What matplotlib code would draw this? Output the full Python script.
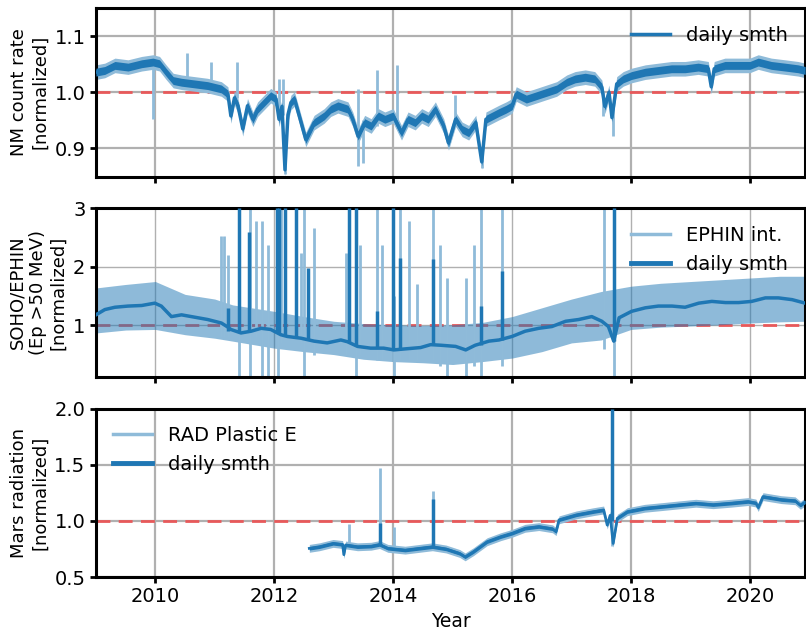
import numpy as np
import matplotlib
matplotlib.use("Agg")
import matplotlib.pyplot as plt
from matplotlib.lines import Line2D

# colours
dark = '#1f77b4'
light = '#8fbbd9'
red = '#e8595a'

# ---- NM count rate (top panel): (year, value)
nm = [(2009.0, 1.036), (2009.15, 1.039), (2009.32, 1.048), (2009.54, 1.045), (2009.77, 1.051),
      (2009.96, 1.054), (2010.07, 1.051), (2010.18, 1.036), (2010.30, 1.021), (2010.44, 1.018),
      (2010.66, 1.015), (2010.88, 1.012), (2011.11, 1.006), (2011.22, 0.997), (2011.27, 0.958),
      (2011.33, 0.990), (2011.39, 0.976), (2011.47, 0.935), (2011.55, 0.976), (2011.64, 0.952),
      (2011.72, 0.970), (2011.83, 0.982), (2011.94, 0.994), (2012.03, 0.988), (2012.08, 0.952),
      (2012.13, 0.975), (2012.18, 0.862), (2012.23, 0.960), (2012.28, 0.982), (2012.34, 0.988),
      (2012.42, 0.958), (2012.53, 0.916), (2012.67, 0.946), (2012.84, 0.958), (2012.95, 0.970),
      (2013.07, 0.976), (2013.24, 0.970), (2013.32, 0.952), (2013.41, 0.922), (2013.52, 0.946),
      (2013.63, 0.940), (2013.75, 0.958), (2013.86, 0.952), (2014.00, 0.958), (2014.14, 0.928),
      (2014.25, 0.952), (2014.37, 0.946), (2014.48, 0.958), (2014.59, 0.952), (2014.71, 0.970),
      (2014.85, 0.940), (2014.93, 0.910), (2015.05, 0.952), (2015.16, 0.934), (2015.27, 0.928),
      (2015.39, 0.946), (2015.49, 0.876), (2015.56, 0.952), (2015.67, 0.958), (2015.78, 0.964),
      (2015.90, 0.970), (2016.00, 0.976), (2016.07, 0.997), (2016.24, 0.988), (2016.41, 0.994),
      (2016.58, 1.000), (2016.75, 1.006), (2016.92, 1.018), (2017.06, 1.024), (2017.23, 1.027),
      (2017.39, 1.024), (2017.51, 1.009), (2017.56, 0.975), (2017.63, 1.000), (2017.68, 0.955),
      (2017.76, 1.015), (2017.87, 1.024), (2018.01, 1.030), (2018.24, 1.036), (2018.46, 1.039),
      (2018.68, 1.042), (2018.91, 1.042), (2019.13, 1.045), (2019.30, 1.042), (2019.35, 1.010),
      (2019.40, 1.042), (2019.58, 1.048), (2019.80, 1.048), (2020.00, 1.048), (2020.14, 1.054),
      (2020.36, 1.048), (2020.59, 1.045), (2020.81, 1.042), (2020.93, 1.039)]
# single light spikes: (year, low, high)
nm_spikes = [(2009.96, 0.952, 1.050), (2010.54, 1.020, 1.070), (2010.93, 1.010, 1.054),
             (2011.37, 0.990, 1.054), (2012.08, 0.950, 1.024), (2012.14, 0.960, 1.023),
             (2012.18, 0.855, 0.870), (2013.41, 0.868, 1.006), (2013.49, 0.874, 0.950),
             (2013.72, 0.940, 1.039), (2014.06, 0.940, 1.049), (2015.04, 0.940, 0.995),
             (2015.49, 0.866, 0.900), (2017.53, 0.958, 1.000), (2017.69, 0.923, 0.980)]

# ---- SOHO/EPHIN (middle panel)
eph = [(2009.0, 1.18), (2009.15, 1.27), (2009.32, 1.31), (2009.54, 1.33), (2009.77, 1.34),
       (2009.99, 1.38), (2010.10, 1.33), (2010.27, 1.15), (2010.44, 1.18), (2010.66, 1.14),
       (2010.88, 1.10), (2011.11, 1.04), (2011.22, 0.97), (2011.27, 0.93), (2011.44, 0.87),
       (2011.61, 0.90), (2011.78, 0.95), (2011.94, 0.93), (2012.11, 0.84), (2012.22, 0.81),
       (2012.45, 0.78), (2012.67, 0.73), (2012.89, 0.70), (2013.12, 0.75), (2013.23, 0.72),
       (2013.40, 0.64), (2013.62, 0.61), (2013.84, 0.61), (2014.01, 0.58), (2014.23, 0.60),
       (2014.46, 0.62), (2014.63, 0.67), (2014.80, 0.66), (2015.05, 0.64), (2015.22, 0.58),
       (2015.38, 0.66), (2015.61, 0.73), (2015.78, 0.75), (2016.00, 0.81), (2016.22, 0.90),
       (2016.45, 0.95), (2016.67, 0.98), (2016.90, 1.07), (2017.12, 1.10), (2017.34, 1.15),
       (2017.51, 1.07), (2017.62, 0.98), (2017.71, 0.73), (2017.80, 1.13), (2018.01, 1.24),
       (2018.24, 1.30), (2018.46, 1.33), (2018.69, 1.33), (2018.91, 1.31), (2019.14, 1.38),
       (2019.36, 1.41), (2019.59, 1.39), (2019.81, 1.39), (2020.03, 1.41), (2020.26, 1.47),
       (2020.48, 1.47), (2020.71, 1.44), (2020.93, 1.38)]
# spread of the raw EPHIN data: (year, low, high)
eph_band = [(2009.0, 0.87, 1.64), (2009.5, 0.92, 1.70), (2010.0, 0.93, 1.75), (2010.5, 0.84, 1.53),
            (2011.0, 0.78, 1.45), (2011.3, 0.73, 1.35), (2012.0, 0.61, 1.24), (2012.5, 0.55, 1.15),
            (2013.0, 0.50, 1.07), (2013.5, 0.42, 1.03), (2014.0, 0.38, 1.01), (2014.5, 0.36, 1.00),
            (2015.0, 0.33, 1.01), (2015.5, 0.38, 1.05), (2016.0, 0.44, 1.15), (2016.5, 0.55, 1.30),
            (2017.0, 0.70, 1.45), (2017.5, 0.75, 1.58), (2018.0, 0.93, 1.67), (2018.5, 0.97, 1.72),
            (2019.0, 0.99, 1.75), (2019.5, 1.01, 1.78), (2020.0, 1.04, 1.81), (2020.5, 1.06, 1.84),
            (2020.93, 1.07, 1.84)]
eph_dark_spikes = [(2011.22, 0.90, 1.29), (2011.41, 0.90, 3.0), (2011.58, 0.90, 2.60),
                   (2012.04, 0.90, 3.0), (2012.08, 0.85, 3.0), (2012.18, 0.82, 3.0),
                   (2012.36, 0.80, 3.0), (2012.56, 0.76, 1.98), (2013.26, 0.72, 3.0),
                   (2013.37, 0.66, 3.0), (2013.73, 0.61, 1.24), (2014.00, 0.58, 3.0),
                   (2014.12, 0.59, 2.15), (2014.67, 0.67, 2.13), (2015.48, 0.66, 1.33),
                   (2015.83, 0.75, 1.93), (2017.71, 0.73, 3.0)]
eph_light_spikes = [(2011.10, 0.80, 2.53), (2011.16, 0.80, 2.53), (2011.22, 0.80, 2.20),
                    (2011.41, 0.10, 3.0), (2011.60, 0.10, 3.0), (2011.69, 0.80, 2.78),
                    (2011.80, 0.10, 2.78), (2011.89, 0.10, 2.38), (2012.06, 0.10, 3.0),
                    (2012.12, 0.70, 3.0), (2012.45, 0.70, 2.24), (2012.50, 0.10, 3.0),
                    (2012.67, 0.50, 2.67), (2013.20, 0.50, 2.24), (2013.37, 0.10, 1.50),
                    (2013.45, 0.50, 2.38), (2013.73, 0.40, 3.0), (2013.82, 0.40, 2.38),
                    (2014.01, 0.10, 1.50), (2014.12, 0.40, 3.0), (2014.26, 0.40, 2.78),
                    (2014.40, 0.40, 1.70), (2014.67, 0.40, 3.0), (2014.79, 0.30, 2.38),
                    (2014.90, 0.10, 1.81), (2015.22, 0.10, 1.81), (2015.36, 0.30, 2.38),
                    (2015.48, 0.10, 3.0), (2015.83, 0.30, 3.0), (2017.54, 0.60, 3.0),
                    (2017.71, 0.10, 3.0)]

# ---- Mars RAD (bottom panel)
rad = [(2012.59, 0.756), (2012.76, 0.770), (2012.99, 0.800), (2013.15, 0.790), (2013.17, 0.700),
       (2013.20, 0.786), (2013.40, 0.770), (2013.63, 0.775), (2013.77, 0.790), (2013.91, 0.756),
       (2014.20, 0.740), (2014.43, 0.755), (2014.66, 0.770), (2014.89, 0.750), (2015.12, 0.710),
       (2015.21, 0.680), (2015.35, 0.726), (2015.58, 0.815), (2015.81, 0.860), (2016.00, 0.890),
       (2016.22, 0.935), (2016.45, 0.950), (2016.68, 0.930), (2016.74, 0.905), (2016.79, 1.010),
       (2017.08, 1.054), (2017.37, 1.083), (2017.54, 1.098), (2017.60, 0.964), (2017.65, 1.050),
       (2017.70, 0.800), (2017.77, 1.024), (2017.94, 1.083), (2018.23, 1.113), (2018.52, 1.128),
       (2018.80, 1.143), (2019.09, 1.158), (2019.38, 1.145), (2019.68, 1.158), (2019.97, 1.173),
       (2020.10, 1.160), (2020.14, 1.120), (2020.22, 1.217), (2020.53, 1.190), (2020.76, 1.180),
       (2020.85, 1.140), (2020.93, 1.170)]
rad_dark_spikes = [(2013.77, 0.79, 0.98), (2014.67, 0.77, 1.20), (2017.68, 1.00, 2.0)]
rad_light_spikes = [(2013.26, 0.78, 0.97), (2013.77, 0.79, 1.47), (2014.02, 0.76, 0.95),
                    (2014.67, 0.77, 1.27), (2017.68, 0.78, 2.0)]

plt.rcParams['font.family'] = 'DejaVu Sans'
fig, axes = plt.subplots(3, 1, sharex=True, figsize=(8.06, 6.3), dpi=100)
fig.subplots_adjust(left=0.119, right=0.999, top=0.987, bottom=0.084, hspace=0.19)
ax1, ax2, ax3 = axes


def spikes(ax, lst, color, lw, z, alpha=1.0):
    t = [s[0] for s in lst]
    ax.vlines(t, [s[1] for s in lst], [s[2] for s in lst], color=color, lw=lw,
              zorder=z, alpha=alpha)


# top: NM
t, v = np.array(nm).T
ax1.fill_between(t, v - 0.013, v + 0.013, color=light, lw=0, zorder=2)
spikes(ax1, nm_spikes, light, 2.0, 2)
ax1.fill_between(t, v - 0.007, v + 0.007, color=dark, lw=0, zorder=3)
ax1.plot(t, v, color=dark, lw=2.5, zorder=3, label='daily smth')
ax1.set_ylim(0.85, 1.15)
ax1.set_yticks([0.9, 1.0, 1.1])
ax1.set_ylabel('NM count rate\n[normalized]', fontsize=13)
ax1.legend(loc='upper right', frameon=False, fontsize=14)

# middle: EPHIN (semi-transparent spread so the 1.0 line shows through)
bt, blo, bhi = np.array(eph_band).T
ax2.fill_between(bt, blo, bhi, color=dark, alpha=0.5, lw=0, zorder=2)
spikes(ax2, eph_light_spikes, light, 2.0, 2.1)
t, v = np.array(eph).T
ax2.plot(t, v, color=dark, lw=2.5, zorder=3)
spikes(ax2, eph_dark_spikes, dark, 2.5, 3)
ax2.set_ylim(0.12, 3)
ax2.set_yticks([1, 2, 3])
ax2.set_ylabel('SOHO/EPHIN\n(Ep >50 MeV)\n[normalized]', fontsize=13)
h2 = [Line2D([], [], color=light, lw=2.5), Line2D([], [], color=dark, lw=3.5)]
ax2.legend(h2, ['EPHIN int.', 'daily smth'], loc='upper right', frameon=False, fontsize=14)

# bottom: RAD
t, v = np.array(rad).T
ax3.fill_between(t, v - 0.035, v + 0.035, color=light, lw=0, zorder=2)
spikes(ax3, rad_light_spikes, light, 2.0, 2)
ax3.fill_between(t, v - 0.015, v + 0.015, color=dark, lw=0, zorder=3)
ax3.plot(t, v, color=dark, lw=2.0, zorder=3)
spikes(ax3, rad_dark_spikes, dark, 2.5, 3)
ax3.set_ylim(0.5, 2.0)
ax3.set_yticks([0.5, 1.0, 1.5, 2.0])
ax3.set_ylabel('Mars radiation\n[normalized]', fontsize=13)
h3 = [Line2D([], [], color=light, lw=2.5), Line2D([], [], color=dark, lw=3.5)]
ax3.legend(h3, ['RAD Plastic E', 'daily smth'], loc='upper left', frameon=False, fontsize=14)
ax3.set_xlabel('Year', fontsize=13.5)

ax3.set_xlim(2009.0, 2020.93)
ax3.set_xticks([2010, 2012, 2014, 2016, 2018, 2020])

for i, ax in enumerate(axes):
    ax.axhline(1.0, color=red, lw=2, ls=(0, (5, 3)), zorder=1.5)
    ax.grid(True, color='#b0b0b0', lw=1.0 if i == 1 else 1.6, zorder=0)
    ax.set_axisbelow(True)
    for s in ax.spines.values():
        s.set_linewidth(2.2)
    ax.tick_params(labelsize=14, width=2, length=4)

fig.savefig('out.png', dpi=100)
